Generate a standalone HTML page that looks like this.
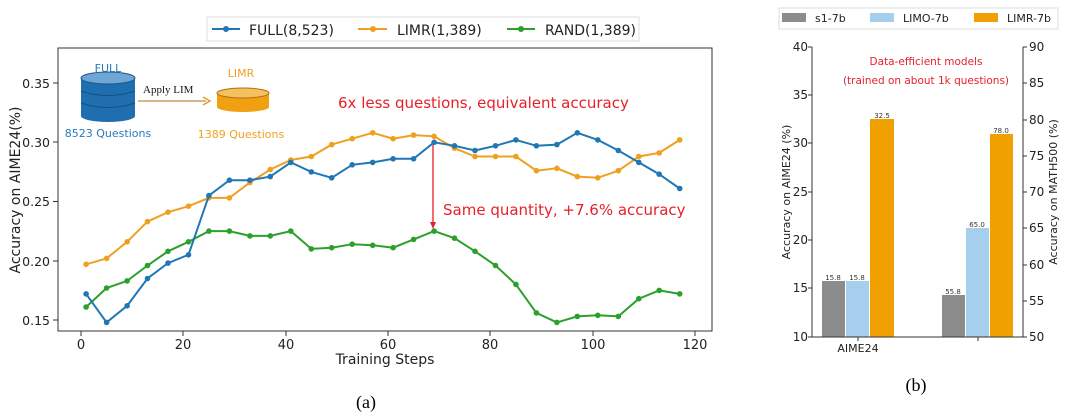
<!DOCTYPE html>
<html><head><meta charset="utf-8"><style>
body{margin:0;background:#fff;width:1080px;height:414px;overflow:hidden}
svg text{font-family:"DejaVu Sans","Liberation Sans",sans-serif}
</style></head><body>
<svg width="1080" height="414" viewBox="0 0 1080 414" xmlns="http://www.w3.org/2000/svg">
<rect x="207" y="17" width="432" height="24" fill="#fff" stroke="#ddd"/>
<line x1="212" y1="29" x2="240" y2="29" stroke="#1f77b4" stroke-width="2"/><circle cx="226" cy="29" r="3" fill="#1f77b4"/>
<text x="249" y="35" font-size="14" fill="#222">FULL(8,523)</text>
<line x1="358" y1="29" x2="387" y2="29" stroke="#f0a020" stroke-width="2"/><circle cx="373" cy="29" r="3" fill="#f0a020"/>
<text x="397" y="35" font-size="14" fill="#222">LIMR(1,389)</text>
<line x1="507" y1="29" x2="535" y2="29" stroke="#2ca02c" stroke-width="2"/><circle cx="521" cy="29" r="3" fill="#2ca02c"/>
<text x="545" y="35" font-size="14" fill="#222">RAND(1,389)</text>
<rect x="58" y="48" width="654" height="283" fill="none" stroke="#333" stroke-width="1"/>
<g font-size="12.5" fill="#222" text-anchor="end">
<line x1="53" y1="83" x2="58" y2="83" stroke="#333"/><text x="50" y="88">0.35</text>
<line x1="53" y1="142" x2="58" y2="142" stroke="#333"/><text x="50" y="147">0.30</text>
<line x1="53" y1="201.5" x2="58" y2="201.5" stroke="#333"/><text x="50" y="206">0.25</text>
<line x1="53" y1="261" x2="58" y2="261" stroke="#333"/><text x="50" y="266">0.20</text>
<line x1="53" y1="320" x2="58" y2="320" stroke="#333"/><text x="50" y="325">0.15</text>
</g>
<g font-size="13" fill="#222" text-anchor="middle">
<line x1="81" y1="331" x2="81" y2="336" stroke="#333"/><text x="81" y="349">0</text>
<line x1="183" y1="331" x2="183" y2="336" stroke="#333"/><text x="183" y="349">20</text>
<line x1="286" y1="331" x2="286" y2="336" stroke="#333"/><text x="286" y="349">40</text>
<line x1="388" y1="331" x2="388" y2="336" stroke="#333"/><text x="388" y="349">60</text>
<line x1="490" y1="331" x2="490" y2="336" stroke="#333"/><text x="490" y="349">80</text>
<line x1="593" y1="331" x2="593" y2="336" stroke="#333"/><text x="593" y="349">100</text>
<line x1="695" y1="331" x2="695" y2="336" stroke="#333"/><text x="695" y="349">120</text>
<text x="385" y="364" font-size="14">Training Steps</text>
</g>
<text transform="translate(20,190) rotate(-90)" font-size="14" fill="#222" text-anchor="middle">Accuracy on AIME24(%)</text>
<text x="366" y="408" font-size="18" text-anchor="middle" style="font-family:'Liberation Serif',serif">(a)</text>
<g id="lines"></g>
<text x="338" y="108" font-size="15" fill="#e8202a">6x less questions, equivalent accuracy</text>
<text x="443" y="215" font-size="15" fill="#e8202a">Same quantity, +7.6% accuracy</text>
<line x1="433" y1="145" x2="433" y2="226" stroke="#e8202a" stroke-width="1.3"/>
<path d="M430,222 L433,229 L436,222 Z" fill="#e8202a"/>
<text x="108" y="72" font-size="11" fill="#2a7ab8" text-anchor="middle">FULL</text>
<rect x="81" y="78" width="54" height="38" fill="#1f6fb0"/>
<ellipse cx="108" cy="116" rx="27" ry="6" fill="#1f6fb0"/>
<ellipse cx="108" cy="78" rx="27" ry="6" fill="#6fa6d6" stroke="#1a5a90"/>
<path d="M81,91 Q108,100 135,91 M81,103 Q108,112 135,103" stroke="#174f80" fill="none"/>
<text x="108" y="137" font-size="11" fill="#2a7ab8" text-anchor="middle">8523 Questions</text>
<text x="143" y="93" font-size="11" fill="#111" style="font-family:'Liberation Serif',serif">Apply LIM</text>
<line x1="138" y1="101" x2="206" y2="101" stroke="#c8a060" stroke-width="1.5"/>
<path d="M203,97 L210,101 L203,105" stroke="#e0a030" fill="none" stroke-width="1.5"/>
<text x="241" y="77" font-size="11" fill="#f0a020" text-anchor="middle">LIMR</text>
<rect x="217" y="93" width="52" height="14" fill="#f0a010"/>
<ellipse cx="243" cy="107" rx="26" ry="5" fill="#f0a010"/>
<ellipse cx="243" cy="93" rx="26" ry="5" fill="#f5c060" stroke="#b07010"/>
<text x="241" y="138" font-size="11" fill="#f0a020" text-anchor="middle">1389 Questions</text>

<rect x="779" y="8" width="279" height="21" fill="#fff" stroke="#ddd"/>
<rect x="782" y="13" width="24" height="9" fill="#8c8c8c"/><text x="815" y="22" font-size="11" fill="#222">s1-7b</text>
<rect x="870" y="13" width="24" height="9" fill="#a6cfee"/><text x="903" y="22" font-size="11" fill="#222">LIMO-7b</text>
<rect x="974" y="13" width="24" height="9" fill="#f0a000"/><text x="1007" y="22" font-size="11" fill="#222">LIMR-7b</text>
<rect x="822" y="281" width="23" height="56" fill="#8c8c8c"/>
<rect x="846" y="281" width="23" height="56" fill="#a6cfee"/>
<rect x="870" y="119" width="24" height="218" fill="#f0a000"/>
<rect x="942" y="295" width="23" height="42" fill="#8c8c8c"/>
<rect x="966" y="228" width="23" height="109" fill="#a6cfee"/>
<rect x="990" y="134" width="23" height="203" fill="#f0a000"/>
<g font-size="7" fill="#333" text-anchor="middle">
<text x="833" y="280">15.8</text><text x="857" y="280">15.8</text><text x="882" y="118">32.5</text>
<text x="953" y="294">55.8</text><text x="977" y="227">65.0</text><text x="1001" y="133">78.0</text>
</g>
<path d="M812,47 L812,337 L1023,337 L1023,47" fill="none" stroke="#333"/>
<g font-size="12" fill="#222" text-anchor="end">
<text x="808" y="51">40</text><text x="808" y="99">35</text><text x="808" y="147">30</text><text x="808" y="196">25</text><text x="808" y="244">20</text><text x="808" y="292">15</text><text x="808" y="341">10</text>
</g>
<g stroke="#333"><line x1="808" y1="47" x2="812" y2="47"/><line x1="808" y1="95" x2="812" y2="95"/><line x1="808" y1="143" x2="812" y2="143"/><line x1="808" y1="192" x2="812" y2="192"/><line x1="808" y1="240" x2="812" y2="240"/><line x1="808" y1="288" x2="812" y2="288"/><line x1="808" y1="337" x2="812" y2="337"/>
<line x1="1023" y1="47" x2="1027" y2="47"/><line x1="1023" y1="83" x2="1027" y2="83"/><line x1="1023" y1="120" x2="1027" y2="120"/><line x1="1023" y1="156" x2="1027" y2="156"/><line x1="1023" y1="192" x2="1027" y2="192"/><line x1="1023" y1="228" x2="1027" y2="228"/><line x1="1023" y1="265" x2="1027" y2="265"/><line x1="1023" y1="301" x2="1027" y2="301"/><line x1="1023" y1="337" x2="1027" y2="337"/>
<line x1="858" y1="337" x2="858" y2="341"/><line x1="978" y1="337" x2="978" y2="341"/></g>
<g font-size="12" fill="#222">
<text x="1029" y="51">90</text><text x="1029" y="87">85</text><text x="1029" y="124">80</text><text x="1029" y="160">75</text><text x="1029" y="196">70</text><text x="1029" y="232">65</text><text x="1029" y="269">60</text><text x="1029" y="305">55</text><text x="1029" y="341">50</text>
</g>
<text x="858" y="352" font-size="11" fill="#222" text-anchor="middle">AIME24</text>
<text transform="translate(790,192) rotate(-90)" font-size="11" fill="#222" text-anchor="middle">Accuracy on AIME24 (%)</text>
<text transform="translate(1057,192) rotate(-90)" font-size="11" fill="#222" text-anchor="middle">Accuracy on MATH500 (%)</text>
<text x="926" y="65" font-size="10.5" fill="#e8202a" text-anchor="middle">Data-efficient models</text>
<text x="926" y="84" font-size="10.5" fill="#e8202a" text-anchor="middle">(trained on about 1k questions)</text>
<text x="916" y="391" font-size="18" text-anchor="middle" style="font-family:'Liberation Serif',serif">(b)</text>
</svg>
<script>
const full=[0.172,0.148,0.162,0.185,0.198,0.205,0.255,0.268,0.268,0.271,0.283,0.275,0.270,0.281,0.283,0.286,0.286,0.300,0.297,0.293,0.297,0.302,0.297,0.298,0.308,0.302,0.293,0.283,0.273,0.261];
const limr=[0.197,0.202,0.216,0.233,0.241,0.246,0.253,0.253,0.266,0.277,0.285,0.288,0.298,0.303,0.308,0.303,0.306,0.305,0.295,0.288,0.288,0.288,0.276,0.278,0.271,0.270,0.276,0.288,0.291,0.302];
const rand=[0.161,0.177,0.183,0.196,0.208,0.216,0.225,0.225,0.221,0.221,0.225,0.210,0.211,0.214,0.213,0.211,0.218,0.225,0.219,0.208,0.196,0.180,0.156,0.148,0.153,0.154,0.153,0.168,0.175,0.172];
const g=document.getElementById('lines');let s='';
function draw(d,c){let pts=d.map((v,i)=>{const x=81+(1+4*i)*5.117;const y=320-(v-0.15)/0.05*59.25;return [x.toFixed(1),y.toFixed(1)];});
s+=`<polyline points="${pts.map(p=>p.join(',')).join(' ')}" fill="none" stroke="${c}" stroke-width="2"/>`;
pts.forEach(p=>s+=`<circle cx="${p[0]}" cy="${p[1]}" r="2.8" fill="${c}"/>`);}
draw(rand,'#2ca02c');draw(limr,'#f0a020');draw(full,'#1f77b4');
g.innerHTML=s;
</script>
</body></html>
